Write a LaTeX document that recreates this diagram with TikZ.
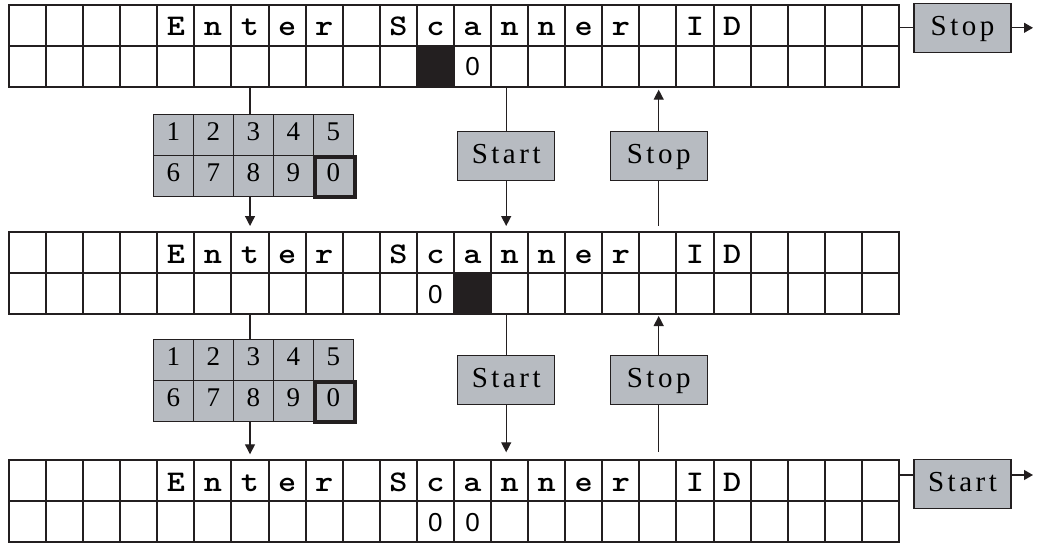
\documentclass[tikz,border=0pt]{standalone}
\usepackage{fontspec}
\setmainfont{Liberation Serif}
\newfontfamily\sansfam{Liberation Sans}
\newfontfamily\lcdfont{lmmonolt10-bold.otf}[FakeStretch=1.15]
\usetikzlibrary{arrows.meta,calc}
\definecolor{keygray}{RGB}{183,187,193}
\definecolor{edge}{RGB}{35,31,32}
\begin{document}
\begin{tikzpicture}[x=1pt,y=-1pt,
  gcell/.style={draw=edge, line width=2pt, minimum width=37.08pt, minimum height=41pt, inner sep=0pt, outer sep=0pt},
  ltxt/.style={inner sep=0pt, font=\lcdfont\fontsize{30}{30}\selectfont, text height=21pt, text depth=0pt},
  dtxt/.style={inner sep=0pt, font=\sansfam\fontsize{26}{26}\selectfont, text height=19pt, text depth=0pt},
  key/.style={draw=edge, line width=1.5pt, fill=keygray, minimum width=40pt, minimum height=41pt, inner sep=0pt, outer sep=0pt, font=\fontsize{27}{27}\selectfont, text height=11.5pt, text depth=0pt},
  btn/.style={draw=edge, line width=1.3pt, fill=keygray, minimum width=97pt, minimum height=49pt, inner sep=0pt, outer sep=0pt, font=\fontsize{29}{29}\selectfont, text height=15.5pt, text depth=0pt},
  conn/.style={line width=1.3pt, draw=edge},
  tipd/.style={-{Triangle[width=10pt,length=10pt]}},
  tipr/.style={-{Triangle[width=10pt,length=9pt]}}
]
\useasboundingbox (0,0) rectangle (1037,543);
% LCD grids
\foreach \g/\top in {1/4.7, 2/232, 3/460.3} {
  \foreach \i in {0,...,23} {
    \node[gcell] (g\g a-\i) at ({9+37.08*(\i+0.5)}, {\top+20.5}) {};
    \node[gcell] (g\g b-\i) at ({9+37.08*(\i+0.5)}, {\top+61.5}) {};
  }
  \foreach \i/\c in {4/E,5/n,6/t,7/e,8/r,10/S,11/c,12/a,13/n,14/n,15/e,16/r,18/I,19/D}
    \node[ltxt] (t\g-\i) at (g\g a-\i.center) {\c};
}
% cursor and digits
\fill[edge] (g1b-11.north west) rectangle (g1b-11.south east);
\node[dtxt] (d1-12) at (g1b-12.center) {0};
\node[dtxt] (d2-11) at (g2b-11.center) {0};
\fill[edge] (g2b-12.north west) rectangle (g2b-12.south east);
\node[dtxt] (d3-11) at (g3b-11.center) {0};
\node[dtxt] (d3-12) at (g3b-12.center) {0};
% keypads
\foreach \k/\top in {1/114.5, 2/339.5} {
  \foreach \d [count=\j from 0] in {1,2,3,4,5}
    \node[key] (kp\k-\d) at ({153.3+40*(\j+0.5)}, {\top+20.5}) {\d};
  \foreach \d [count=\j from 0] in {6,7,8,9,0}
    \node[key] (kp\k-\d) at ({153.3+40*(\j+0.5)}, {\top+61.5}) {\d};
  \draw[edge, line width=4pt] ($(kp\k-0.north west)+(1.7,1.7)$) rectangle ($(kp\k-0.south east)+(1.4,0)$);
}
% buttons
\node[btn] (stopR) at (962.5,27.8) {S\kern3.5pt t\kern3.5pt o\kern3.5pt p};
\node[btn] (start1) at (506.2,155.8) {S\kern3.5pt t\kern3.5pt a\kern3.5pt r\kern3.5pt t};
\node[btn] (stop1) at (658.7,155.8) {S\kern3.5pt t\kern3.5pt o\kern3.5pt p};
\node[btn] (start2) at (506.2,379.7) {S\kern3.5pt t\kern3.5pt a\kern3.5pt r\kern3.5pt t};
\node[btn] (stop2) at (658.7,379.7) {S\kern3.5pt t\kern3.5pt o\kern3.5pt p};
\node[btn] (startR) at (962.5,484.2) {S\kern3.5pt t\kern3.5pt a\kern3.5pt r\kern3.5pt t};
% connectors between grids
\foreach \a/\b/\k in {1/2/1, 2/3/2} {
  \draw[conn] (g\a b-6.south) -- (g\a b-6.south |- kp\k-3.north);
  \draw[conn, tipd, shorten >=6pt] (g\a b-6.south |- kp\k-8.south) -- (g\b a-6.north);
}
\draw[conn] (start1.north |- g1b-13.south) -- (start1.north);
\draw[conn, tipd, shorten >=6pt] (start1.south) -- (start1.south |- g2a-13.north);
\draw[conn, shorten >=6pt] (stop1.south) -- (stop1.south |- g2a-17.north);
\draw[conn, tipd, shorten >=3pt] (stop1.north) -- (stop1.north |- g1b-17.south);
\draw[conn] (start2.north |- g2b-13.south) -- (start2.north);
\draw[conn, tipd, shorten >=8pt] (start2.south) -- (start2.south |- g3a-13.north);
\draw[conn, shorten >=8pt] (stop2.south) -- (stop2.south |- g3a-17.north);
\draw[conn, tipd, shorten >=2pt] (stop2.north) -- (stop2.north |- g2b-17.south);
% right side
\coordinate (outR1) at (1033,27.8);
\draw[conn] (g1a-23.east |- stopR.west) -- (stopR.west);
\draw[conn, tipr] (stopR.east) -- (outR1);
\coordinate (inR3) at ($(g3a-23.east)+(0,-5.8)$);
\coordinate (outR3) at (1033,475);
\draw[conn] (inR3) -- (inR3 -| startR.west);
\draw[conn, tipr] (inR3 -| startR.east) -- (outR3);
\end{tikzpicture}
\end{document}
